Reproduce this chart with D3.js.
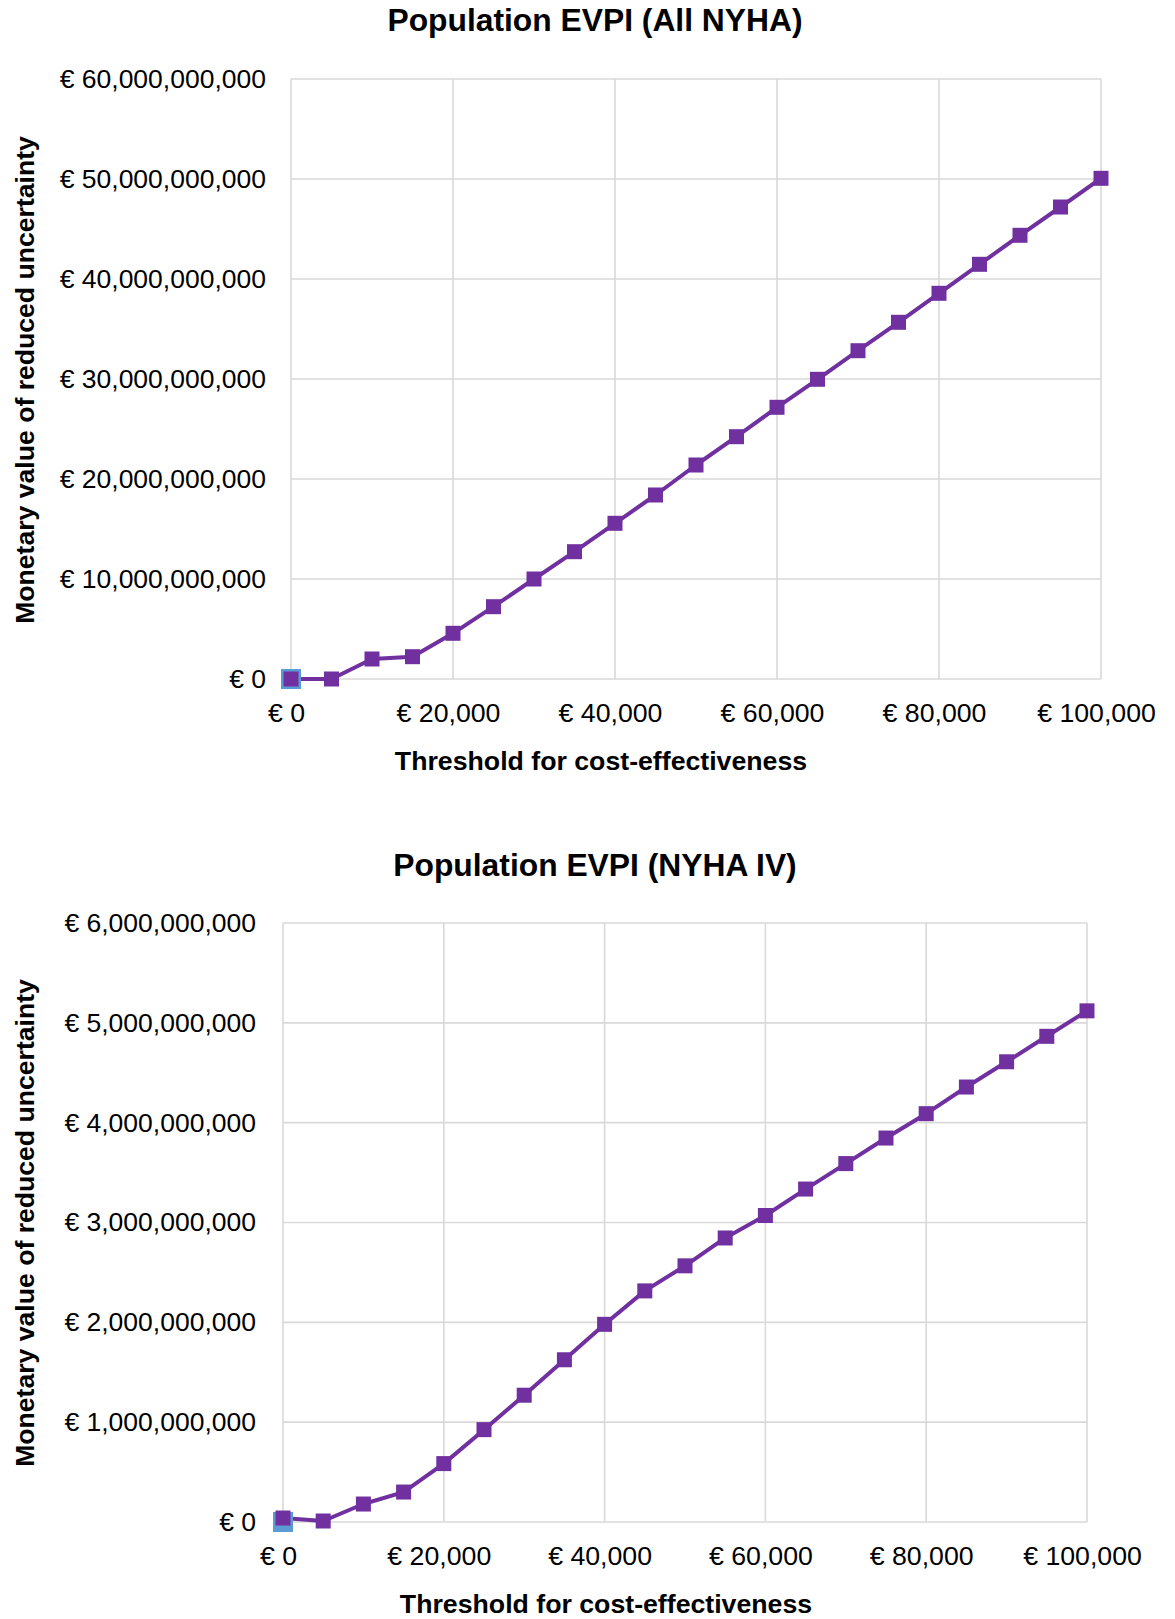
<!DOCTYPE html>
<html>
<head>
<meta charset="utf-8">
<script src="https://cdn.jsdelivr.net/npm/d3@7"></script>
<style>
  html, body { margin: 0; padding: 0; background: #fff; }
  svg { display: block; font-family: "Liberation Sans", Arial, sans-serif; }
</style>
</head>
<body>
<svg id="chart" width="1175" height="1619"></svg>
<script>
// ---- Data ----
const thresholds = [0, 5000, 10000, 15000, 20000, 25000, 30000, 35000, 40000, 45000, 50000,
                    55000, 60000, 65000, 70000, 75000, 80000, 85000, 90000, 95000, 100000];
const evpiAllNYHA = [0, 0, 2.0e9, 2.23e9, 4.57e9, 7.23e9, 10.0e9, 12.73e9, 15.57e9, 18.4e9, 21.4e9,
                     24.23e9, 27.17e9, 29.97e9, 32.83e9, 35.67e9, 38.57e9, 41.47e9, 44.37e9, 47.2e9, 50.07e9];
const evpiNYHAIV = [0.04e9, 0.01e9, 0.18e9, 0.30e9, 0.585e9, 0.925e9, 1.27e9, 1.625e9, 1.98e9, 2.315e9, 2.566e9,
                    2.845e9, 3.07e9, 3.335e9, 3.59e9, 3.846e9, 4.09e9, 4.357e9, 4.61e9, 4.865e9, 5.12e9];
const refPointX = [0];
const refPointY = [0];
const xTicks = [0, 20000, 40000, 60000, 80000, 100000];
const yTicksAll = [0, 1e10, 2e10, 3e10, 4e10, 5e10, 6e10];
const yTicksIV = [0, 1e9, 2e9, 3e9, 4e9, 5e9, 6e9];
const titles = ["Population EVPI (All NYHA)", "Population EVPI (NYHA IV)"];
const xTitle = "Threshold for cost-effectiveness";
const yTitle = "Monetary value of reduced uncertainty";

const svg = d3.select("#chart");
const fmt = v => "€ " + d3.format(",")(v);
const gridColor = "#d9d9d9";
const purple = "#7030a0";
const blue = "#5b9bd5";
const FONT = '"Liberation Sans", Arial, sans-serif';

function drawChart(cfg) {
  const g = svg.append("g");
  const x = d3.scaleLinear().domain([0, 100000]).range([cfg.left, cfg.right]);
  const y = d3.scaleLinear().domain([0, cfg.yMax]).range([cfg.bottom, cfg.top]);

  // grid
  g.append("g").selectAll("line").data(cfg.yTicks).join("line")
    .attr("x1", cfg.left).attr("x2", cfg.right)
    .attr("y1", d => y(d)).attr("y2", d => y(d))
    .attr("stroke", gridColor).attr("stroke-width", 1.6);
  g.append("g").selectAll("line").data(xTicks).join("line")
    .attr("x1", d => x(d)).attr("x2", d => x(d))
    .attr("y1", cfg.top).attr("y2", cfg.bottom)
    .attr("stroke", gridColor).attr("stroke-width", 1.6);

  // y axis labels
  const yAxis = d3.axisLeft(y).tickValues(cfg.yTicks).tickFormat(fmt).tickSize(0).tickPadding(cfg.left - cfg.yLabelX);
  const ya = g.append("g").attr("transform", `translate(${cfg.left},0)`).call(yAxis);
  ya.select(".domain").remove();
  ya.selectAll("text").attr("font-size", 26.5).attr("fill", "#000").attr("font-family", FONT);

  // x axis labels
  const xAxis = d3.axisBottom(x).tickValues(xTicks).tickFormat(fmt).tickSize(0).tickPadding(24);
  const xa = g.append("g").attr("transform", `translate(-5,${cfg.bottom})`).call(xAxis);
  xa.select(".domain").remove();
  xa.selectAll("text").attr("font-size", 26.7).attr("fill", "#000").attr("font-family", FONT);

  // line
  const line = d3.line().x((d, i) => x(thresholds[i])).y(d => y(d));
  g.append("path").datum(cfg.values).attr("d", line)
    .attr("fill", "none").attr("stroke", purple).attr("stroke-width", 4)
    .attr("stroke-linejoin", "round");

  // reference (blue) point
  g.append("g").selectAll("rect").data(refPointX).join("rect")
    .attr("x", (d) => x(d) - 10).attr("y", (d, i) => y(refPointY[i]) - 10)
    .attr("width", 20).attr("height", 20).attr("fill", blue);

  // markers
  const s = 15;
  g.append("g").selectAll("rect").data(cfg.values).join("rect")
    .attr("x", (d, i) => x(thresholds[i]) - s / 2).attr("y", d => y(d) - s / 2)
    .attr("width", s).attr("height", s).attr("fill", purple);

  // titles
  g.append("text").attr("x", cfg.titleX).attr("y", cfg.titleY).attr("text-anchor", "middle")
    .attr("font-size", 31.8).attr("font-weight", "bold").text(cfg.title);
  g.append("text").attr("x", cfg.xTitleX).attr("y", cfg.bottom + 91).attr("text-anchor", "middle")
    .attr("font-size", 26.7).attr("font-weight", "bold").text(xTitle);
  g.append("text").attr("transform", `translate(34,${cfg.yTitleY}) rotate(-90)`)
    .attr("text-anchor", "middle").attr("font-size", 26.6).attr("font-weight", "bold").text(yTitle);
}

drawChart({ left: 291, right: 1101, top: 79, bottom: 679, yMax: 6e10, yTicks: yTicksAll,
  values: evpiAllNYHA, yLabelX: 266, title: titles[0], titleX: 595, titleY: 31,
  xTitleX: 601, yTitleY: 380 });
drawChart({ left: 283, right: 1087, top: 923, bottom: 1522, yMax: 6e9, yTicks: yTicksIV,
  values: evpiNYHAIV, yLabelX: 256, title: titles[1], titleX: 595, titleY: 876,
  xTitleX: 606, yTitleY: 1223 });
</script>
</body>
</html>
